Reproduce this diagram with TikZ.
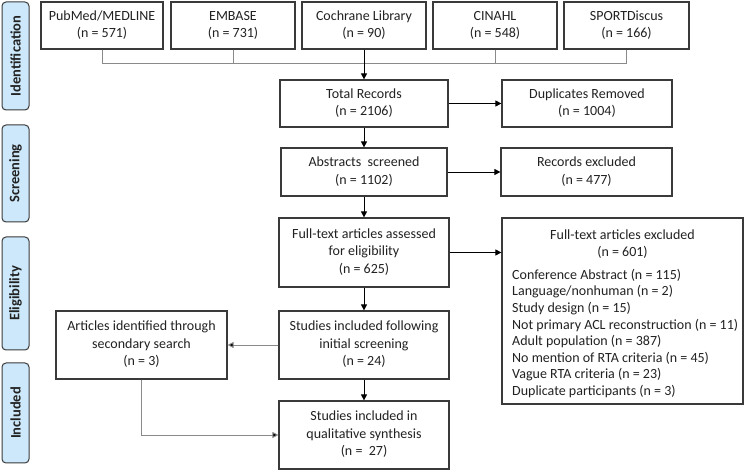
\documentclass[tikz,border=0pt]{standalone}
\usepackage{fontspec}
\setmainfont{Carlito}
\usetikzlibrary{arrows.meta,calc}
\definecolor{boxline}{HTML}{3A3A3A}
\definecolor{txt}{HTML}{222222}
\definecolor{grayline}{HTML}{8A8A8A}
\definecolor{phasefill}{HTML}{CCE8FA}
\newcommand{\cstk}[1]{\begin{tabular}{@{}c@{}}#1\end{tabular}}
\begin{document}
\begin{tikzpicture}[x=1pt,y=-1pt,
  every node/.style={font=\fontsize{14}{17.5}\selectfont, text=txt},
  box/.style={draw=boxline, line width=1.2pt, fill=white, inner sep=0pt},
  phase/.style={draw=boxline, line width=1pt, fill=phasefill, rounded corners=4pt, inner sep=0pt},
  ptxt/.style={rotate=90, font=\fontsize{14.5}{16}\selectfont\bfseries, text=txt},
  arr/.style={line width=0.8pt, draw=black, -{Triangle[length=6pt,width=6pt]}},
  glin/.style={line width=0.9pt, draw=grayline},
  garr/.style={glin, -{Triangle[length=6pt,width=6pt,fill=black]}}
]
\useasboundingbox (0,0) rectangle (745,470);

% phase labels
\node[phase, minimum width=27pt, minimum height=108pt] (pid) at (15.5,56) {};
\node[ptxt] (tid) at (pid.center) {Identification};
\node[phase, minimum width=27pt, minimum height=97pt] (psc) at (15.5,173.5) {};
\node[ptxt] (tsc) at (psc.center) {Screening};
\node[phase, minimum width=27pt, minimum height=113pt] (pel) at (15.5,293.5) {};
\node[ptxt] (tel) at (pel.center) {Eligibility};
\node[phase, minimum width=27pt, minimum height=100pt] (pin) at (15.5,413) {};
\node[ptxt] (tin) at (pin.center) {Included};

% sources
\node[box, minimum width=122pt, minimum height=47pt] (pub) at (102,25.5) {\cstk{PubMed/MEDLINE\\(n = 571)}};
\node[box, minimum width=124pt, minimum height=47pt] (emb) at (233,25.5) {\cstk{EMBASE\\(n = 731)}};
\node[box, minimum width=124pt, minimum height=47pt] (coc) at (364,25.5) {\cstk{Cochrane Library\\(n = 90)}};
\node[box, minimum width=124pt, minimum height=47pt] (cin) at (495,25.5) {\cstk{CINAHL\\(n = 548)}};
\node[box, minimum width=125pt, minimum height=47pt] (spo) at (626.5,25.5) {\cstk{SPORTDiscus\\(n = 166)}};

% main column
\node[box, minimum width=168pt, minimum height=47pt] (tot) at (364,103.5) {\cstk{Total Records\\(n = 2106)}};
\node[box, minimum width=170pt, minimum height=47pt] (dup) at (587,103.5) {\cstk{Duplicates Removed\\(n = 1004)}};
\node[box, minimum width=166pt, minimum height=48pt] (abs) at (364,172) {\cstk{Abstracts\ \ screened\\(n = 1102)}};
\node[box, minimum width=171pt, minimum height=48pt] (rex) at (586.5,172) {\cstk{Records excluded\\(n = 477)}};
\node[box, minimum width=170pt, minimum height=69pt] (ful) at (364,252.5) {\cstk{Full-text articles assessed\\for eligibility\\(n = 625)}};
\node[box, minimum width=241pt, minimum height=186pt] (fex) at (622.5,311) {};
\node[inner sep=0pt] (fext) at (622.5,244.5) {\cstk{Full-text articles excluded\\(n = 601)}};
\node[anchor=north west, inner sep=0pt, font=\fontsize{14}{16.6}\selectfont] (fexl) at (512,267.5) {%
\begin{tabular}{@{}l@{}}
Conference Abstract (n = 115)\\
Language/nonhuman (n = 2)\\
Study design (n = 15)\\
Not primary ACL reconstruction (n = 11)\\
Adult population (n = 387)\\
No mention of RTA criteria (n = 45)\\
Vague RTA criteria (n = 23)\\
Duplicate participants (n = 3)
\end{tabular}};
\node[box, minimum width=170pt, minimum height=68pt] (inc) at (364,345) {\cstk{Studies included following\\initial screening\\(n = 24)}};
\node[box, minimum width=171pt, minimum height=68pt] (art) at (141.5,345) {\cstk{Articles identified through\\secondary search\\(n = 3)}};
\node[box, minimum width=170pt, minimum height=68pt] (qua) at (364,435) {\cstk{Studies included in\\qualitative synthesis\\(n =\ \ 27)}};

% connectors
\coordinate (hl) at (0,63);
\draw[glin] (pub.south) -- (pub.south |- hl) -- (spo.south |- hl) -- (spo.south);
\draw[glin] (emb.south) -- (emb.south |- hl);
\draw[glin] (cin.south) -- (cin.south |- hl);
\draw[arr] (coc.south) -- (tot.north);
\draw[arr] (tot.east) -- (dup.west);
\draw[arr] (tot.south) -- (abs.north);
\draw[arr] (abs.east) -- (rex.west);
\draw[arr] (abs.south) -- (ful.north);
\draw[arr] (ful.east) -- (ful.east -| fex.west);
\draw[arr] (ful.south) -- (inc.north);
\draw[arr] (inc.south) -- (qua.north);
\draw[garr] (inc.west) -- (art.east);
\draw[garr] (art.south) |- (qua.west);
\end{tikzpicture}
\end{document}
